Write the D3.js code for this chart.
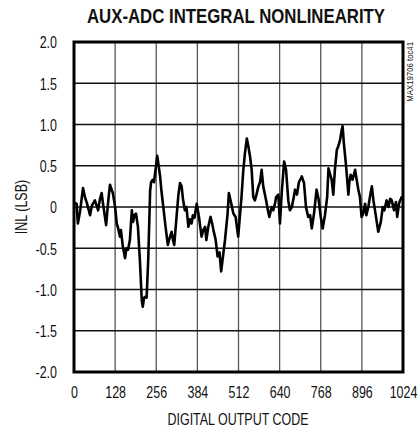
<!DOCTYPE html>
<html><head><meta charset="utf-8">
<script src="https://cdn.jsdelivr.net/npm/d3@7"></script>
<style>body{margin:0;background:#fff}svg{display:block}</style>
</head><body>
<script>
const xTicks = [0,128,256,384,512,640,768,896,1024];
const yTicks = [-2,-1.5,-1,-0.5,0,0.5,1,1.5,2];
const yTickLabels = ["-2.0","-1.5","-1.0","-0.5","0","0.5","1.0","1.5","2.0"];
const codes = [2,8,12,19,28,34,40,50,56,65,72,75,81,86,90,100,106,112,118,121,128,133,137,143,146,152,159,163,168,174,180,184,188,193,199,205,211,214,218,221,226,231,237,240,245,249,255,259,261,268,272,278,285,292,296,299,304,308,312,320,325,330,335,339,345,350,356,361,366,370,375,382,389,397,402,408,412,418,425,430,434,441,447,453,458,465,470,478,482,489,496,503,511,517,521,527,532,538,542,548,553,558,563,568,574,579,584,589,598,604,608,615,620,626,629,636,641,647,654,660,667,672,678,683,688,694,700,709,716,722,729,735,740,747,755,761,768,774,781,788,792,797,802,807,812,818,822,828,833,836,840,847,854,857,861,867,875,879,885,890,895,900,906,910,916,921,927,932,940,947,955,961,966,973,979,984,989,996,1002,1006,1012,1020,1024];
const inl = [0.05,0.04,-0.2,-0.05,0.23,0.12,0.05,-0.1,0.02,0.08,0.0,-0.04,0.1,0.17,0.05,-0.22,0.05,0.27,0.2,0.17,0.0,-0.2,-0.25,-0.36,-0.28,-0.48,-0.62,-0.5,-0.52,-0.4,-0.04,-0.18,-0.1,-0.08,-0.24,-0.64,-1.13,-1.21,-1.1,-1.09,-1.1,-0.64,0.2,0.3,0.33,0.3,0.49,0.62,0.57,0.37,0.2,0.0,-0.24,-0.46,-0.4,-0.36,-0.3,-0.4,-0.46,-0.08,0.15,0.29,0.25,0.1,-0.04,0.0,-0.24,-0.15,-0.2,-0.1,-0.13,0.04,-0.12,-0.36,-0.28,-0.24,-0.4,-0.24,-0.12,-0.2,-0.28,-0.4,-0.6,-0.55,-0.78,-0.56,-0.4,-0.08,0.17,0.05,-0.08,-0.12,-0.36,-0.08,0.1,0.45,0.65,0.83,0.75,0.61,0.45,0.12,0.08,0.15,0.25,0.3,0.45,0.25,0.08,-0.05,-0.12,0.0,-0.04,0.05,0.12,0.15,-0.2,0.2,0.55,0.45,0.08,-0.04,0.0,0.1,0.21,0.15,0.3,0.37,0.29,0.0,-0.12,-0.1,-0.26,-0.08,0.21,0.1,-0.12,-0.26,-0.1,0.12,0.47,0.4,0.33,0.15,0.45,0.69,0.73,0.81,0.93,0.98,0.77,0.49,0.15,0.3,0.39,0.33,0.45,0.35,0.21,0.12,-0.12,-0.08,0.04,-0.1,0.0,0.12,0.25,0.08,-0.12,-0.3,-0.18,0.0,-0.04,0.08,0.0,0.1,0.08,-0.04,0.06,-0.12,0.05,0.12,0.08];

const W = 419, H = 432;
const m = {l:74, r:403, t:42, b:372};
const font = "'Liberation Sans',Arial,sans-serif";
const sq = 0.78;
const svg = d3.select("body").append("svg").attr("width",W).attr("height",H);
const x = d3.scaleLinear().domain([0,1024]).range([m.l,m.r]);
const y = d3.scaleLinear().domain([-2,2]).range([m.b,m.t]);

// grid
svg.append("g").selectAll("line").data(xTicks.slice(1,-1)).join("line")
  .attr("x1",d=>x(d)).attr("x2",d=>x(d)).attr("y1",m.t).attr("y2",m.b)
  .attr("stroke","#555").attr("stroke-width",1.3);
svg.append("g").selectAll("line").data(yTicks.slice(1,-1)).join("line")
  .attr("y1",d=>y(d)).attr("y2",d=>y(d)).attr("x1",m.l).attr("x2",m.r)
  .attr("stroke","#111").attr("stroke-width",1.3);

// data line
const line = d3.line().x((d,i)=>x(codes[i])).y(d=>y(d));
svg.append("path").datum(inl).attr("d",line).attr("fill","none")
  .attr("stroke","#000").attr("stroke-width",2.6).attr("stroke-linejoin","round");

// frame
svg.append("rect").attr("x",m.l).attr("y",m.t).attr("width",m.r-m.l).attr("height",m.b-m.t)
  .attr("fill","none").attr("stroke","#000").attr("stroke-width",3);

// axes labels
const xAxis = d3.axisBottom(x).tickValues(xTicks).tickFormat(d3.format("d")).tickSize(0).tickPadding(0);
const gx = svg.append("g").attr("transform",`translate(0,${m.b})`).call(xAxis);
gx.select(".domain").remove();
gx.selectAll("text").attr("y",0).attr("dy",null).attr("transform",`translate(0,26) scale(${sq},1)`)
  .attr("font-family",font).attr("font-size",16).attr("fill","#111");

const yAxis = d3.axisLeft(y).tickValues(yTicks).tickFormat((d,i)=>yTickLabels[i]).tickSize(0).tickPadding(0);
const gy = svg.append("g").attr("transform",`translate(57,0)`).call(yAxis);
gy.select(".domain").remove();
gy.selectAll("text").attr("x",0).attr("dy","0.36em").attr("transform",`scale(${sq},1)`)
  .attr("font-family",font).attr("font-size",16).attr("fill","#111");

svg.append("text").attr("transform","translate(236,23) scale(0.84,1)").attr("text-anchor","middle")
  .attr("font-family",font).attr("font-weight","bold").attr("font-size",20).attr("fill","#111")
  .text("AUX-ADC INTEGRAL NONLINEARITY");
svg.append("text").attr("transform",`translate(238,425) scale(${sq},1)`).attr("text-anchor","middle")
  .attr("font-family",font).attr("font-size",16).attr("fill","#111").text("DIGITAL OUTPUT CODE");
svg.append("text").attr("transform",`translate(27,207) rotate(-90) scale(${sq},1)`).attr("text-anchor","middle")
  .attr("font-family",font).attr("font-size",16).attr("fill","#111").text("INL (LSB)");
svg.append("text").attr("transform","translate(413,42) rotate(-90) scale(0.82,1)").attr("text-anchor","end")
  .attr("font-family",font).attr("font-size",9.5).attr("fill","#111").text("MAX19706 toc41");
</script>
</body></html>
